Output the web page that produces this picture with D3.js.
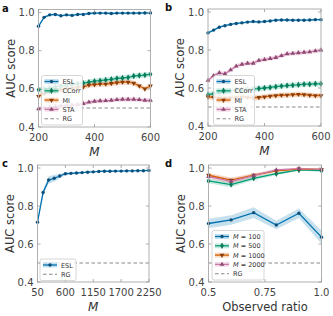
<!DOCTYPE html>
<html>
<head>
<meta charset="utf-8">
<script src="https://cdn.jsdelivr.net/npm/d3@7"></script>
<style>
  body { margin: 0; background: #fff; }
  svg text { font-family: "DejaVu Sans", sans-serif; }
</style>
</head>
<body>
<svg id="chart" width="333" height="316"></svg>
<script>
// panel a / b: M from 200 to 600
var mAB = d3.range(200, 601, 20);

var eslA   = [0.928,0.975,0.988,0.99,0.983,0.988,0.985,0.99,0.99,0.995,0.997,0.997,0.997,0.995,0.997,0.997,0.997,0.997,0.997,0.998,0.998];
var ccorrA = [0.595,0.60,0.605,0.61,0.615,0.62,0.623,0.627,0.63,0.635,0.64,0.643,0.647,0.65,0.655,0.657,0.66,0.667,0.67,0.672,0.677];
var miA    = [0.56,0.575,0.585,0.59,0.595,0.60,0.603,0.607,0.61,0.62,0.622,0.625,0.625,0.628,0.632,0.635,0.635,0.63,0.615,0.60,0.615];
var staA   = [0.495,0.50,0.503,0.507,0.51,0.513,0.515,0.518,0.522,0.53,0.535,0.537,0.538,0.54,0.543,0.545,0.545,0.545,0.543,0.54,0.54];

var eslB   = [0.89,0.905,0.92,0.928,0.935,0.94,0.943,0.947,0.95,0.948,0.95,0.953,0.957,0.958,0.958,0.957,0.957,0.957,0.958,0.96,0.96];
var ccorrB = [0.565,0.57,0.575,0.58,0.585,0.59,0.59,0.592,0.595,0.597,0.60,0.603,0.607,0.61,0.613,0.615,0.617,0.62,0.62,0.622,0.622];
var miB    = [0.553,0.55,0.548,0.547,0.548,0.55,0.552,0.55,0.548,0.55,0.553,0.557,0.56,0.562,0.563,0.565,0.567,0.565,0.562,0.56,0.56];
var staB   = [0.64,0.665,0.68,0.675,0.695,0.715,0.725,0.73,0.73,0.745,0.75,0.755,0.76,0.77,0.78,0.782,0.785,0.788,0.79,0.795,0.80];

// panel c: M from 50 to 2250
var mC   = d3.range(50, 2251, 110);
var eslC = [0.715,0.871,0.937,0.946,0.958,0.97,0.972,0.974,0.976,0.978,0.98,0.982,0.983,0.983,0.984,0.984,0.985,0.985,0.986,0.986,0.987];
var bandC = [0.008,0.015,0.02,0.018,0.012,0.008,0.006,0.005,0.004,0.004,0.004,0.003,0.003,0.003,0.003,0.003,0.003,0.003,0.003,0.003,0.003];

// panel d: observed ratio
var ratioD = [0.5,0.6,0.7,0.8,0.9,1.0];
var m100   = [0.708,0.727,0.765,0.70,0.762,0.636];
var m500   = [0.932,0.913,0.946,0.97,0.99,0.986];
var m1000  = [0.962,0.936,0.963,0.985,0.995,0.993];
var m2000  = [0.955,0.93,0.96,0.99,0.997,0.993];

var yTicks = [0.4, 0.6, 0.8, 1.0];
var colors = { blue: "#0072B2", green: "#009E73", orange: "#D55E00", pink: "#CC79A7" };

var svg = d3.select("#chart");

function drawPanel(p) {
    var g = svg.append("g");
    var x = d3.scaleLinear().domain(p.xDomain).range([p.left, p.right]);
    var y = d3.scaleLinear().domain([0.4, 1.016]).range([p.bottom, p.top]);

    // bands
    p.series.forEach(function (s) {
        var area = d3.area()
            .x(function (d, i) { return x(p.xs[i]); })
            .y0(function (d, i) { return y(d - s.band[i]); })
            .y1(function (d, i) { return y(d + s.band[i]); });
        g.append("path").attr("d", area(s.values))
            .attr("fill", s.color).attr("opacity", 0.22);
    });

    // random guess
    g.append("line")
        .attr("x1", p.left).attr("x2", p.right)
        .attr("y1", y(0.5)).attr("y2", y(0.5))
        .attr("stroke", "#888").attr("stroke-width", 1.1)
        .attr("stroke-dasharray", "3.5,2.5");

    // lines + markers
    p.series.forEach(function (s) {
        var line = d3.line()
            .x(function (d, i) { return x(p.xs[i]); })
            .y(function (d) { return y(d); });
        g.append("path").attr("d", line(s.values))
            .attr("fill", "none").attr("stroke", s.color).attr("stroke-width", 1.3);
        g.selectAll(null).data(s.values).enter().append("path")
            .attr("d", d3.symbol().type(s.symbol).size(s.size || 9))
            .attr("transform", function (d, i) {
                return "translate(" + x(p.xs[i]) + "," + y(d) + ")" + (s.flip ? " rotate(180)" : "");
            })
            .attr("fill", s.dark || s.color);
    });

    // frame
    g.append("rect")
        .attr("x", p.left).attr("y", p.top)
        .attr("width", p.right - p.left).attr("height", p.bottom - p.top)
        .attr("fill", "none").attr("stroke", "#b0b0b0").attr("stroke-width", 1);

    // ticks (inward, all sides)
    var tk = g.append("g").attr("stroke", "#999").attr("stroke-width", 0.8);
    p.xTicks.forEach(function (t) {
        tk.append("line").attr("x1", x(t)).attr("x2", x(t)).attr("y1", p.bottom).attr("y2", p.bottom - 3);
        tk.append("line").attr("x1", x(t)).attr("x2", x(t)).attr("y1", p.top).attr("y2", p.top + 3);
    });
    yTicks.forEach(function (t) {
        tk.append("line").attr("y1", y(t)).attr("y2", y(t)).attr("x1", p.left).attr("x2", p.left + 3);
        tk.append("line").attr("y1", y(t)).attr("y2", y(t)).attr("x1", p.right).attr("x2", p.right - 3);
    });

    // tick labels
    g.selectAll(null).data(yTicks).enter().append("text")
        .attr("x", p.left - 4).attr("y", function (d) { return y(d) + 3.5; })
        .attr("text-anchor", "end").attr("font-size", 10).attr("fill", "#444")
        .text(function (d) { return d3.format(".1f")(d); });
    g.selectAll(null).data(p.xTicks).enter().append("text")
        .attr("x", function (d) { return x(d); }).attr("y", p.bottom + 14)
        .attr("text-anchor", "middle").attr("font-size", 10).attr("fill", "#444")
        .text(function (d, i) { return p.xLabels[i]; });

    // axis titles
    g.append("text")
        .attr("transform", "translate(" + (p.left - 24) + "," + ((p.top + p.bottom) / 2) + ") rotate(-90)")
        .attr("text-anchor", "middle").attr("font-size", 11.5).attr("fill", "#333")
        .text("AUC score");
    var xt = g.append("text")
        .attr("x", (p.left + p.right) / 2).attr("y", p.bottom + 29)
        .attr("text-anchor", "middle").attr("fill", "#333");
    if (p.xTitle === "M") {
        xt.attr("font-family", "DejaVu Serif, serif").attr("font-style", "italic").attr("font-size", 12).text("M");
    } else {
        xt.attr("font-size", 11.5).text(p.xTitle);
    }

    // panel letter
    g.append("text").attr("x", p.letterX).attr("y", p.top + 2)
        .attr("font-weight", "bold").attr("font-size", 10).attr("fill", "#111")
        .text(p.letter);

    // legend
    var L = p.legend;
    var n = p.series.length + 1;
    var lg = g.append("g");
    lg.append("rect")
        .attr("x", L.x).attr("y", L.y).attr("width", L.w).attr("height", n * 9.3 + 3)
        .attr("rx", 2).attr("fill", "#fff").attr("fill-opacity", 0.85)
        .attr("stroke", "#ccc").attr("stroke-width", 0.8);
    var entries = p.series.concat([{ name: "RG", rg: true }]);
    entries.forEach(function (s, i) {
        var cy = L.y + 6 + i * 9.3;
        if (s.rg) {
            lg.append("line").attr("x1", L.x + 3).attr("x2", L.x + 17).attr("y1", cy).attr("y2", cy)
                .attr("stroke", "#888").attr("stroke-width", 1.1).attr("stroke-dasharray", "3.5,2.5");
        } else {
            lg.append("rect").attr("x", L.x + 3).attr("y", cy - 2.5).attr("width", 14).attr("height", 5)
                .attr("fill", s.color).attr("opacity", 0.22);
            lg.append("line").attr("x1", L.x + 3).attr("x2", L.x + 17).attr("y1", cy).attr("y2", cy)
                .attr("stroke", s.color).attr("stroke-width", 1.3);
            lg.append("path").attr("d", d3.symbol().type(s.symbol).size(s.size || 9))
                .attr("transform", "translate(" + (L.x + 10) + "," + cy + ")" + (s.flip ? " rotate(180)" : ""))
                .attr("fill", s.dark || s.color);
        }
        var t = lg.append("text").attr("x", L.x + 21).attr("y", cy + 2.5)
            .attr("font-size", 6.5).attr("fill", "#333");
        if (s.mval) {
            t.attr("font-family", "DejaVu Serif, serif");
            t.append("tspan").attr("font-style", "italic").text("M");
            t.append("tspan").text(" = " + s.mval);
        } else {
            t.text(s.name);
        }
    });
}

function bandOf(arr, w) { return arr.map(function () { return w; }); }

var serAB = function (esl, ccorr, mi, sta) {
    return [
        { name: "ESL", values: esl, band: bandOf(esl, 0.006), color: colors.blue, dark: "#0b4f7a", symbol: d3.symbolCircle, size: 9 },
        { name: "CCorr", values: ccorr, band: bandOf(ccorr, 0.014), color: colors.green, dark: "#087a5a", symbol: d3.symbolDiamond, size: 12 },
        { name: "MI", values: mi, band: bandOf(mi, 0.014), color: colors.orange, dark: "#8a3d0a", symbol: d3.symbolTriangle, size: 10, flip: true },
        { name: "STA", values: sta, band: bandOf(sta, 0.012), color: colors.pink, dark: "#8e4a73", symbol: d3.symbolTriangle, size: 10 }
    ];
};

drawPanel({
    letter: "a", letterX: 2, left: 38.5, right: 150.5, top: 9.5, bottom: 127,
    xDomain: [200, 600], xs: mAB, xTicks: [200, 400, 600], xLabels: ["200", "400", "600"], xTitle: "M",
    series: serAB(eslA, ccorrA, miA, staA),
    legend: { x: 41.5, y: 75.5, w: 41 }
});

drawPanel({
    letter: "b", letterX: 165, left: 208, right: 321, top: 9, bottom: 126,
    xDomain: [200, 600], xs: mAB, xTicks: [200, 400, 600], xLabels: ["200", "400", "600"], xTitle: "M",
    series: serAB(eslB, ccorrB, miB, staB),
    legend: { x: 213.5, y: 75.5, w: 41 }
});

drawPanel({
    letter: "c", letterX: 2, left: 37.5, right: 149, top: 165, bottom: 282,
    xDomain: [50, 2250], xs: mC, xTicks: [50, 600, 1150, 1700, 2250], xLabels: ["50", "600", "1150", "1700", "2250"], xTitle: "M",
    series: [{ name: "ESL", values: eslC, band: bandC, color: colors.blue, dark: "#0b4f7a", symbol: d3.symbolCircle, size: 9 }],
    legend: { x: 40, y: 259, w: 36 }
});

drawPanel({
    letter: "d", letterX: 165, left: 208.5, right: 321.5, top: 165, bottom: 282,
    xDomain: [0.5, 1.0], xs: ratioD, xTicks: [0.5, 0.75, 1.0], xLabels: ["0.5", "0.75", "1.0"], xTitle: "Observed ratio",
    series: [
        { mval: "100", values: m100, band: [0.025, 0.025, 0.028, 0.022, 0.025, 0.035], color: colors.blue, dark: "#0b4f7a", symbol: d3.symbolCircle, size: 9 },
        { mval: "500", values: m500, band: [0.012, 0.014, 0.01, 0.008, 0.004, 0.005], color: colors.green, dark: "#087a5a", symbol: d3.symbolDiamond, size: 12 },
        { mval: "1000", values: m1000, band: [0.012, 0.014, 0.01, 0.006, 0.003, 0.004], color: colors.orange, dark: "#8a3d0a", symbol: d3.symbolTriangle, size: 10, flip: true },
        { mval: "2000", values: m2000, band: [0.012, 0.014, 0.01, 0.006, 0.003, 0.004], color: colors.pink, dark: "#8e4a73", symbol: d3.symbolTriangle, size: 10 }
    ],
    legend: { x: 212, y: 230.5, w: 52 }
});
</script>
</body>
</html>
